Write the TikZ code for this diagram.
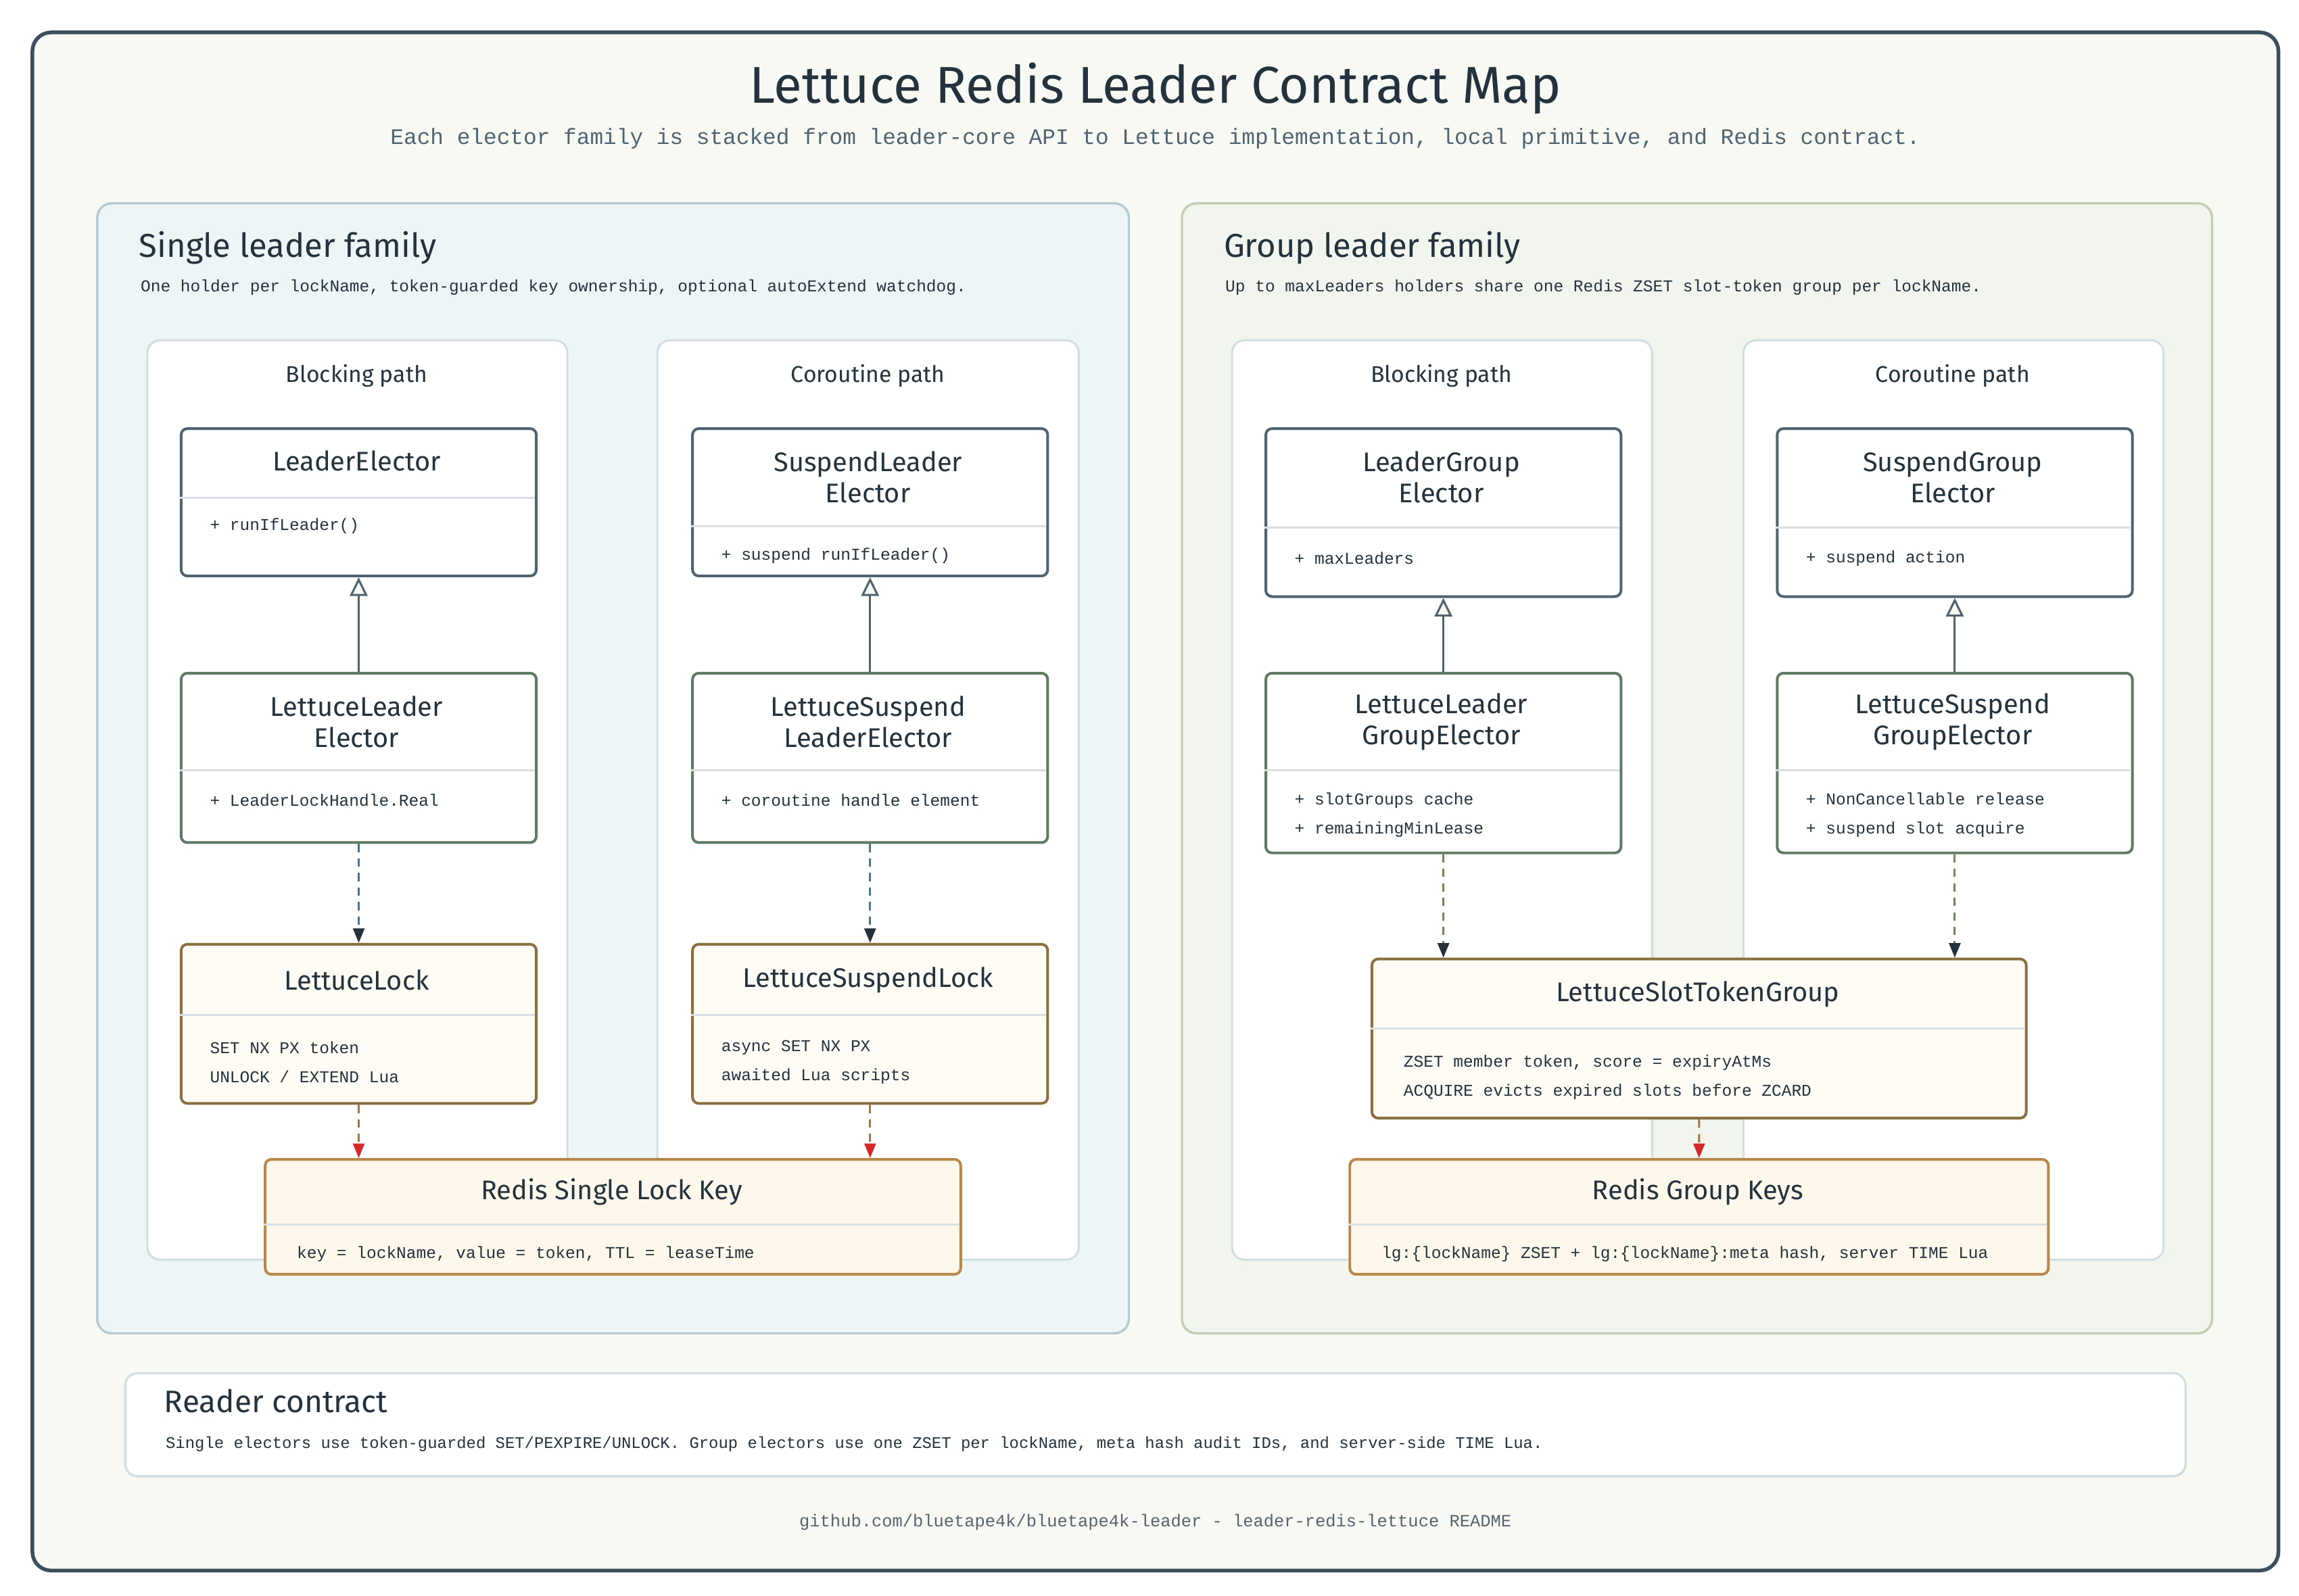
\documentclass[tikz,border=0pt]{standalone}
\usepackage{fontspec}
\setmainfont{Fira Sans}
\setmonofont{Liberation Mono}
\usetikzlibrary{arrows.meta}
\definecolor{ink}{HTML}{23323C}
\definecolor{frame}{HTML}{3D4F5C}
\definecolor{pagebg}{HTML}{F9F9F4}
\definecolor{lbg}{HTML}{EEF5F7}
\definecolor{lst}{HTML}{B5CAD3}
\definecolor{rbg}{HTML}{F2F5EE}
\definecolor{rst}{HTML}{C2CDB4}
\definecolor{lane}{HTML}{D3DEE3}
\definecolor{ifc}{HTML}{4F6470}
\definecolor{impl}{HTML}{5E7B62}
\definecolor{prim}{HTML}{8A7040}
\definecolor{primbg}{HTML}{FFFCF5}
\definecolor{redis}{HTML}{B8884A}
\definecolor{redisbg}{HTML}{FDF7EC}
\definecolor{divc}{HTML}{D8DEE3}
\definecolor{blued}{HTML}{3B78A0}
\definecolor{greend}{HTML}{6A8A4A}
\definecolor{brownd}{HTML}{A8743C}
\definecolor{redt}{HTML}{D62828}
\definecolor{grey}{HTML}{55646C}
\tikzset{
 x=0.5mm,y=-0.5mm,
 box/.style={draw,line width=2.6pt,rounded corners=6pt,anchor=north west,inner sep=0,fill=white},
 ifcbox/.style={box,draw=ifc},
 implbox/.style={box,draw=impl},
 primbox/.style={box,draw=prim,fill=primbg},
 redisbox/.style={box,draw=redis,fill=redisbg},
 ttl/.style={font=\fontsize{26}{30}\selectfont,text=ink,align=center},
 attr/.style={font=\ttfamily\fontsize{16}{28}\selectfont,text=ink,anchor=west,align=left},
 lanet/.style={font=\fontsize{22}{26}\selectfont,text=ink},
 inh/.style={draw=ifc,line width=2pt,-{Triangle[open,length=18pt,width=17pt,fill=pagebg]}},
 dsh/.style={line width=2pt,dash pattern=on 8pt off 6pt,-{Triangle[length=14pt,width=11pt,fill=ink,color=ink]}},
 dshr/.style={line width=2pt,dash pattern=on 8pt off 6pt,draw=brownd,-{Triangle[length=14pt,width=11pt,color=redt]}},
}
\newcommand\divl[3]{\draw[divc,line width=2pt] (#1,#3) -- (#2,#3);}
\begin{document}
\begin{tikzpicture}
\useasboundingbox (0,0) rectangle (1560,1083);
\fill[white] (0,0) rectangle (1560,1083);
\draw[frame,fill=pagebg,line width=3.6pt,rounded corners=18pt] (22,22) rectangle (1546,1066);
\node[font=\fontsize{50}{56}\selectfont,text=ink] (title) at (784,60) {Lettuce Redis Leader Contract Map};
\node[font=\ttfamily\fontsize{21.4}{24}\selectfont,text=ifc] (sub) at (784,94) {Each elector family is stacked from leader-core API to Lettuce implementation, local primitive, and Redis contract.};
% panels
\draw[lst,fill=lbg,line width=2.2pt,rounded corners=14pt] (66,138) rectangle (766,905);
\draw[rst,fill=rbg,line width=2.2pt,rounded corners=14pt] (802,138) rectangle (1501,905);
\node[font=\fontsize{32}{36}\selectfont,text=ink,anchor=west] (lt) at (92,168) {Single leader family};
\node[font=\ttfamily\fontsize{16}{20}\selectfont,text=ink,anchor=west] (ls) at (93,195) {One holder per lockName, token-guarded key ownership, optional autoExtend watchdog.};
\node[font=\fontsize{32}{36}\selectfont,text=ink,anchor=west] (rt) at (828,168) {Group leader family};
\node[font=\ttfamily\fontsize{16}{20}\selectfont,text=ink,anchor=west] (rs) at (829,195) {Up to maxLeaders holders share one Redis ZSET slot-token group per lockName.};
% lanes
\foreach \a/\b in {100/385,446/732,836/1121,1183/1468}
  \draw[lane,fill=white,line width=2pt,rounded corners=12pt] (\a,231) rectangle (\b,855);
\node[lanet] (l1) at (242,255) {Blocking path};
\node[lanet] (l2) at (589,255) {Coroutine path};
\node[lanet] (l3) at (978,255) {Blocking path};
\node[lanet] (l4) at (1325,255) {Coroutine path};
% single blocking
\node[ifcbox,minimum width=120.5mm,minimum height=50mm] (le) at (122,290) {};
\divl{122}{363}{338}
\node[ttl] at (242,313) {LeaderElector};
\node[attr] at (140,357) {+ runIfLeader()};
\node[implbox,minimum width=120.5mm,minimum height=57.5mm] (lle) at (122,456) {};
\divl{122}{363}{523}
\node[ttl] at (242,490) {LettuceLeader\\Elector};
\node[attr] at (140,543) {+ LeaderLockHandle.Real};
\node[primbox,minimum width=120.5mm,minimum height=54mm] (ll) at (122,640) {};
\divl{122}{363}{689}
\node[ttl] at (242,665) {LettuceLock};
\node[attr] at (140,721) {SET NX PX token\\UNLOCK / EXTEND Lua};
% single coroutine
\node[ifcbox,minimum width=120.5mm,minimum height=50mm] (sle) at (469,290) {};
\divl{469}{710}{357}
\node[ttl] at (589,324) {SuspendLeader\\Elector};
\node[attr] at (487,377) {+ suspend runIfLeader()};
\node[implbox,minimum width=120.5mm,minimum height=57.5mm] (lsle) at (469,456) {};
\divl{469}{710}{523}
\node[ttl] at (589,490) {LettuceSuspend\\LeaderElector};
\node[attr] at (487,543) {+ coroutine handle element};
\node[primbox,minimum width=120.5mm,minimum height=54mm] (lsl) at (469,640) {};
\divl{469}{710}{689}
\node[ttl] at (589,665) {LettuceSuspendLock};
\node[attr] at (487,721) {async SET NX PX\\awaited Lua scripts};
% redis single
\node[redisbox,minimum width=236mm,minimum height=39mm] (rsk) at (179,786) {};
\divl{179}{651}{831}
\node[ttl] at (415,809) {Redis Single Lock Key};
\node[attr] at (199,851) {key = lockName, value = token, TTL = leaseTime};
% group blocking
\node[ifcbox,minimum width=120.5mm,minimum height=57mm] (lge) at (858,290) {};
\divl{858}{1099}{358}
\node[ttl] at (978,324) {LeaderGroup\\Elector};
\node[attr] at (876,379) {+ maxLeaders};
\node[implbox,minimum width=120.5mm,minimum height=61mm] (llge) at (858,456) {};
\divl{858}{1099}{523}
\node[ttl] at (978,490) {LettuceLeader\\GroupElector};
\node[attr] at (876,553) {+ slotGroups cache\\+ remainingMinLease};
% group coroutine
\node[ifcbox,minimum width=120.5mm,minimum height=57mm] (sge) at (1205,290) {};
\divl{1205}{1446}{358}
\node[ttl] at (1325,324) {SuspendGroup\\Elector};
\node[attr] at (1223,379) {+ suspend action};
\node[implbox,minimum width=120.5mm,minimum height=61mm] (lsge) at (1205,456) {};
\divl{1205}{1446}{523}
\node[ttl] at (1325,490) {LettuceSuspend\\GroupElector};
\node[attr] at (1223,553) {+ NonCancellable release\\+ suspend slot acquire};
% slot token group
\node[primbox,minimum width=222mm,minimum height=54mm] (stg) at (930,650) {};
\divl{930}{1374}{698}
\node[ttl] at (1152,675) {LettuceSlotTokenGroup};
\node[attr] at (950,731) {ZSET member token, score = expiryAtMs\\ACQUIRE evicts expired slots before ZCARD};
% redis group
\node[redisbox,minimum width=237mm,minimum height=39mm] (rgk) at (915,786) {};
\divl{915}{1389}{831}
\node[ttl] at (1152,809) {Redis Group Keys};
\node[attr] at (935,851) {lg:\{lockName\} ZSET + lg:\{lockName\}:meta hash, server TIME Lua};
% connectors
\draw[inh] (lle.north) -- (le.south);
\draw[inh] (lsle.north) -- (sle.south);
\draw[inh] (llge.north) -- (lge.south);
\draw[inh] (lsge.north) -- (sge.south);
\draw[dsh,draw=blued] (lle.south) -- (ll.north);
\draw[dsh,draw=blued] (lsle.south) -- (lsl.north);
\draw[dsh,draw=greend] (llge.south) -- (llge.south |- stg.north);
\draw[dsh,draw=greend] (lsge.south) -- (lsge.south |- stg.north);
\draw[dshr] (ll.south) -- (ll.south |- rsk.north);
\draw[dshr] (lsl.south) -- (lsl.south |- rsk.north);
\draw[dshr] (stg.south) -- (rgk.north);
% reader contract
\draw[lane,fill=white,line width=2.2pt,rounded corners=12pt] (85,932) rectangle (1483,1002);
\node[font=\fontsize{30}{34}\selectfont,text=ink,anchor=west] (rc) at (109,951) {Reader contract};
\node[font=\ttfamily\fontsize{15.6}{20}\selectfont,text=ink,anchor=west] (rct) at (110,980) {Single electors use token-guarded SET/PEXPIRE/UNLOCK. Group electors use one ZSET per lockName, meta hash audit IDs, and server-side TIME Lua.};
\node[font=\ttfamily\fontsize{16.6}{20}\selectfont,text=grey] (ft) at (784,1033) {github.com/bluetape4k/bluetape4k-leader - leader-redis-lettuce README};
\end{tikzpicture}
\end{document}
